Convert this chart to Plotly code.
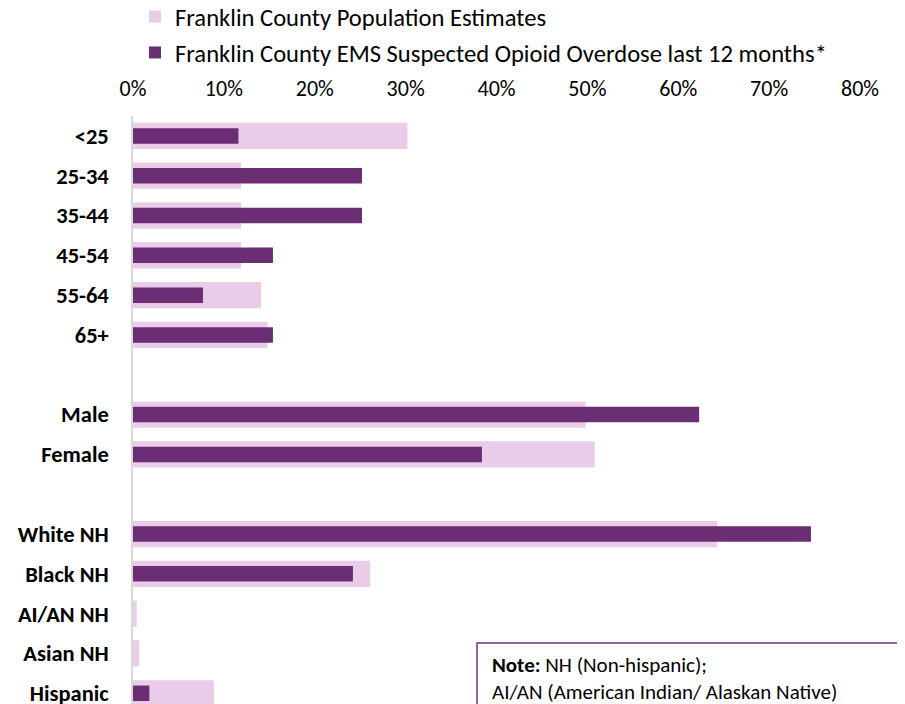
import plotly.graph_objects as go

categories = ["<25", "25-34", "35-44", "45-54", "55-64", "65+", " ",
              "Male", "Female", "  ",
              "White NH", "Black NH", "AI/AN NH", "Asian NH", "Hispanic"]
population = [30.2, 11.9, 11.9, 11.9, 14.1, 14.8, None,
              49.8, 50.8, None,
              64.3, 26.1, 0.4, 0.7, 8.9]
ems = [11.6, 25.2, 25.2, 15.4, 7.7, 15.4, None,
       62.3, 38.4, None,
       74.6, 24.2, 0, 0, 1.8]
x_ticks = [0, 10, 20, 30, 40, 50, 60, 70, 80]
x_tick_labels = ["0%", "10%", "20%", "30%", "40%", "50%", "60%", "70%", "80%"]

FONT = "Carlito, Calibri, Lato, sans-serif"
LIGHT = "#E8CCE8"
DARK = "#6B2D73"

W, H = 905, 704
L, R, T, B = 125, 53, 108, 0
PW, PH = W - L - R, H - T - B
OFF = 8  # page offset of the figure in the screenshot


def px(sx):
    return (sx - OFF - L) / PW


def py(sy):
    return (H - (sy - OFF)) / PH


fig = go.Figure()
fig.add_trace(go.Bar(
    y=categories, x=population, orientation="h", width=0.66,
    name="Franklin County Population Estimates",
    marker=dict(color=LIGHT, line=dict(width=0)),
    legendgroup="a",
))
fig.add_trace(go.Bar(
    y=categories, x=ems, orientation="h", width=0.39,
    name="Franklin County EMS Suspected Opioid Overdose last 12 months*",
    marker=dict(color=DARK, line=dict(width=0)),
    legendgroup="b",
))

fig.update_layout(
    width=W, height=H,
    margin=dict(l=L, r=R, t=T, b=B, autoexpand=False),
    paper_bgcolor="white", plot_bgcolor="white",
    barmode="overlay",
    font=dict(family=FONT, size=22, color="#000000"),
    showlegend=True,
    legend=dict(
        x=px(135), y=py(-6), xanchor="left", yanchor="top",
        orientation="v", traceorder="grouped", tracegroupgap=1,
        font=dict(family=FONT, size=24.6, color="#000000"),
        bgcolor="rgba(0,0,0,0)",
    ),
    xaxis=dict(
        side="top", range=[0, 80], tickvals=x_ticks, ticktext=x_tick_labels,
        showgrid=False, zeroline=False, showline=False, ticks="",
        tickfont=dict(family=FONT, size=22, color="#000000"),
        ticklabelstandoff=15, fixedrange=True,
    ),
    yaxis=dict(
        categoryorder="array", categoryarray=categories,
        range=[14.47, -0.5], showgrid=False, zeroline=False,
        showline=True, linecolor="#D9D9D9", linewidth=1.5, ticks="",
        tickfont=dict(family=FONT, size=22.5, color="#000000", weight="bold"),
        ticklabelstandoff=18, fixedrange=True,
    ),
)

# note box
fig.add_shape(type="rect", xref="paper", yref="paper",
              x0=px(477), x1=px(904),
              y0=-0.1, y1=py(643),
              line=dict(color="#70307A", width=1.5), fillcolor="white", layer="above")
fig.add_annotation(
    xref="paper", yref="paper", x=px(490), y=py(650),
    xanchor="left", yanchor="top", align="left", showarrow=False,
    text="<b>Note:</b> NH (Non-hispanic);<br>AI/AN (American Indian/ Alaskan Native)",
    font=dict(family=FONT, size=21, color="#000000"),
)

fig.write_html("out.html")
